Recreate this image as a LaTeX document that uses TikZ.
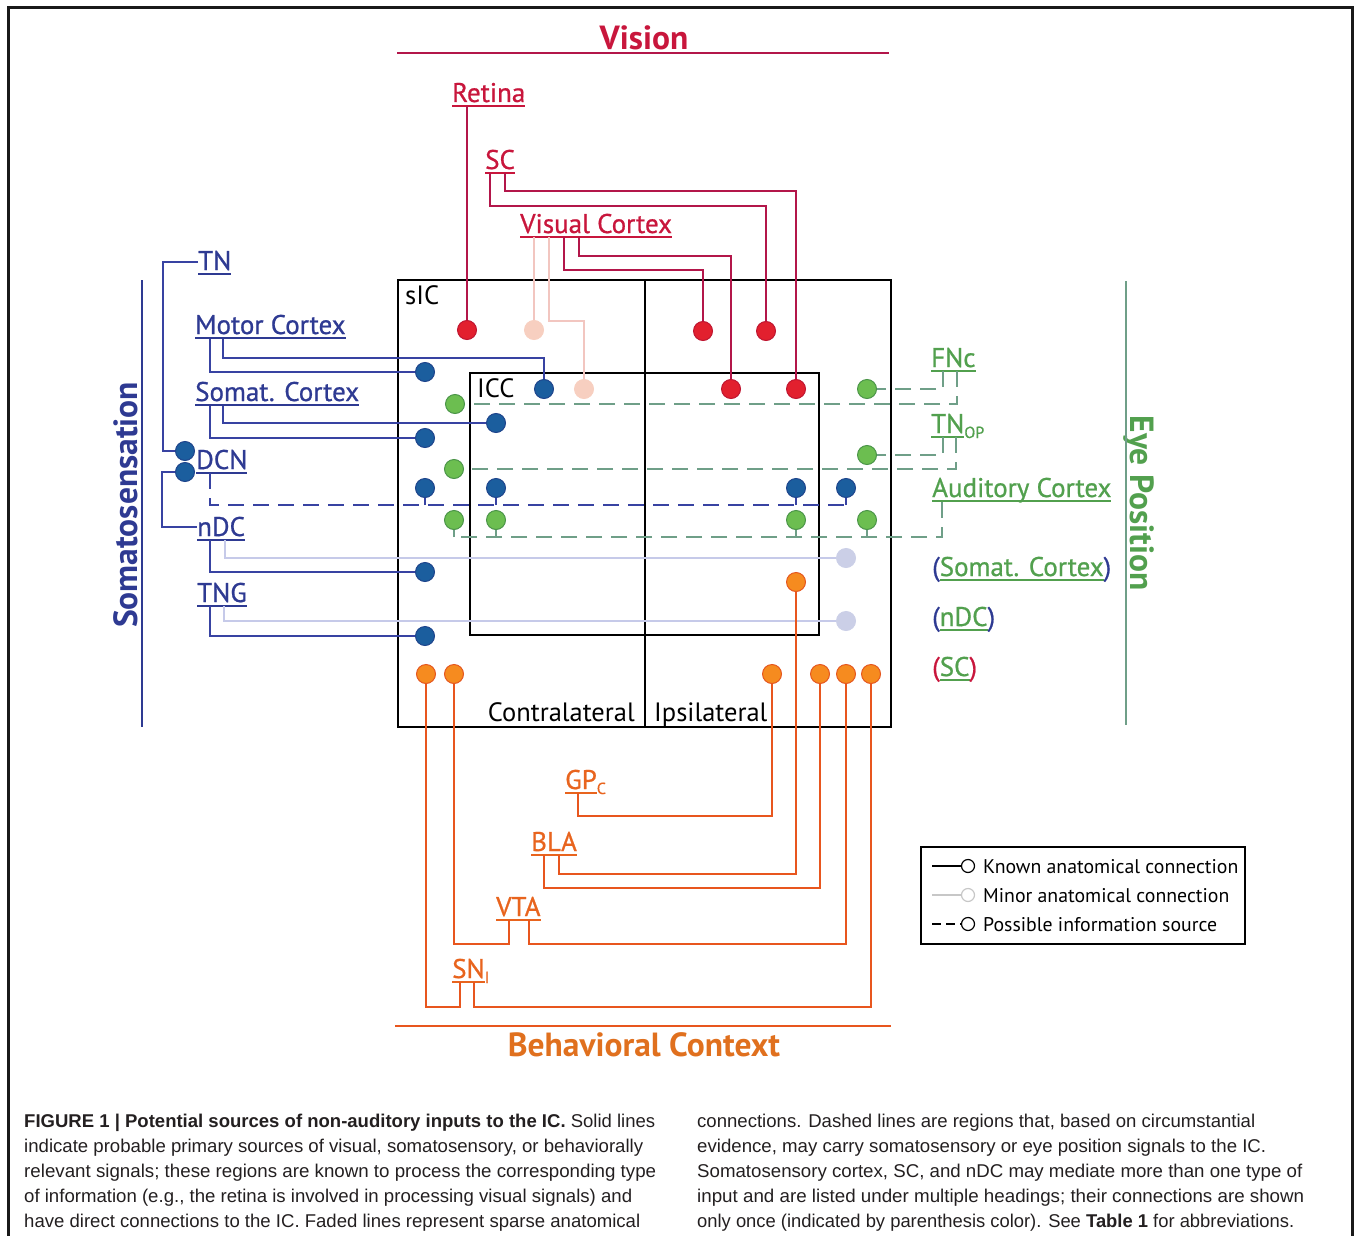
\documentclass[tikz,border=0pt]{standalone}
\usepackage{fontspec}
\usepackage{graphicx}
\setmainfont{PT Sans}
\newfontfamily\labfont[FakeBold=0.8]{PT Sans}
\newfontfamily\capfont{Liberation Sans}
\usetikzlibrary{calc}
\definecolor{vred}{HTML}{C8163C}
\definecolor{vline}{HTML}{B3164A}
\definecolor{vdot}{HTML}{E2202E}
\definecolor{vdotb}{HTML}{BE1530}
\definecolor{pinkdot}{HTML}{F7CFC0}
\definecolor{pinkline}{HTML}{F2C6C0}
\definecolor{sblue}{HTML}{2E3A92}
\definecolor{sline}{HTML}{3843A2}
\definecolor{bdot}{HTML}{1B5E9E}
\definecolor{bdotb}{HTML}{1E448C}
\definecolor{lav}{HTML}{CBCFE7}
\definecolor{lavline}{HTML}{C6CAE9}
\definecolor{egreen}{HTML}{52A04E}
\definecolor{gdot}{HTML}{6CBE50}
\definecolor{gdotb}{HTML}{4A9448}
\definecolor{gline}{HTML}{6F9F88}
\definecolor{odot}{HTML}{F68B1F}
\definecolor{odotb}{HTML}{E5561E}
\definecolor{oline}{HTML}{E8561E}
\definecolor{olab}{HTML}{E8641E}
\definecolor{btitle}{HTML}{E0701E}
\definecolor{captext}{HTML}{231F20}
\newsavebox\ulbox
\newcommand\myul[1]{\sbox\ulbox{#1}\rlap{\rule[-4.6pt]{\wd\ulbox}{1.8pt}}\usebox\ulbox}
\newcommand\subtx[1]{\raisebox{-5pt}{\fontsize{16}{16}\selectfont #1}}
\newcommand\lfont{\labfont\fontsize{27}{27}\selectfont}
\newcommand\hfont{\bfseries\fontsize{33.5}{34}\selectfont}
\newcommand\cfont{\capfont\fontsize{18.5}{20}\selectfont}
\newcommand\bfont{\fontsize{26.5}{27}\selectfont}
\begin{document}
\begin{tikzpicture}[x=1pt,y=-1pt,
  lab/.style={inner sep=0, anchor=base west, font=\lfont, text=#1},
  dotc/.style={circle, minimum size=19pt, inner sep=0, line width=1pt},
  rdot/.style={dotc, fill=vdot, draw=vdotb},
  pdot/.style={dotc, fill=pinkdot, draw=pinkdot},
  bdt/.style={dotc, fill=bdot, draw=bdotb},
  ldot/.style={dotc, fill=lav, draw=lav},
  gdt/.style={dotc, fill=gdot, draw=gdotb},
  odt/.style={dotc, fill=odot, draw=odotb},
  vl/.style={draw=vline, line width=2pt},
  pl/.style={draw=pinkline, line width=2pt},
  bl/.style={draw=sline, line width=1.6pt},
  lavl/.style={draw=lavline, line width=1.6pt},
  bdash/.style={draw=sline, line width=1.6pt, dash pattern=on 16pt off 9pt},
  gdash/.style={draw=gline, line width=1.6pt, dash pattern=on 16pt off 9pt},
  gtick/.style={draw=gline, line width=1.6pt},
  ol/.style={draw=oline, line width=2pt},
  boxl/.style={draw=black, line width=2.6pt},
  legl/.style={line width=1.2pt},
  captxt/.style={inner sep=0, anchor=base west, font=\cfont, text=captext},
  btxt/.style={inner sep=0, font=\bfont},
]
\useasboundingbox (0,0) rectangle (1354,1236);
% outer frame
\draw[line width=3pt, black!90] (8,1236) -- (8,8) -- (1352,8) -- (1352,1236);

% headings
\node[inner sep=0, anchor=base, font=\hfont, text=vred] (vision) at (644,50) {Vision};
\draw[vl] (397,53) -- (889,53);
\node[inner sep=0, anchor=base, font=\hfont, text=btitle] (behav) at (644,1056) {Behavioral Context};
\draw[ol] (395,1026) -- (891,1026);
\node[inner sep=0, rotate=90, font=\hfont, text=sblue] (soma) at (126,505) {Somatosensation};
\draw[draw=sblue, line width=2pt] (142,280) -- (142,727);
\node[inner sep=0, rotate=-90, font=\hfont, text=egreen] (eye) at (1139,503) {Eye Position};
\draw[draw=gline, line width=2pt] (1126,281) -- (1126,725);

% IC boxes
\draw[boxl] (398,280) rectangle (891,727);
\draw[boxl] (470,373) rectangle (819,635);
\draw[boxl] (645,280) -- (645,727);
\node[btxt, anchor=base west] (sic) at (405,304) {sIC};
\node[btxt, anchor=base west] (icc) at (477,397) {ICC};
\node[btxt, anchor=base east] (contra) at (635,721) {Contralateral};
\node[btxt, anchor=base west] (ipsi) at (654,721) {Ipsilateral};

% vision labels
\node[lab=vred] (retina) at (452,102) {\myul{Retina}};
\node[lab=vred] (sc) at (485,169) {\myul{SC}};
\node[lab=vred] (viscx) at (520,233) {\myul{Visual Cortex}};
% somato labels
\node[lab=sblue] (tn) at (198,270) {\myul{TN}};
\node[lab=sblue] (motor) at (195,334) {\myul{Motor Cortex}};
\node[lab=sblue] (somcx) at (195,401) {\myul{Somat. Cortex}};
\node[lab=sblue] (dcn) at (196,469) {\myul{DCN}};
\node[lab=sblue] (ndc) at (197,536) {\myul{nDC}};
\node[lab=sblue] (tng) at (197,602) {\myul{TNG}};
% eye labels
\node[lab=egreen] (fnc) at (931,367) {\myul{FNc}};
\node[lab=egreen] (tnop) at (931,433) {\myul{TN}\subtx{OP}};
\node[lab=egreen] (audcx) at (932,497) {\myul{Auditory Cortex}};
\node[lab=egreen] (somcx2) at (932,576) {{\color{sblue}(}\myul{Somat. Cortex}{\color{sblue})}};
\node[lab=egreen] (ndc2) at (932,626) {{\color{sblue}(}\myul{nDC}{\color{sblue})}};
\node[lab=egreen] (sc2) at (932,676) {{\color{vred}(}\myul{SC}{\color{vred})}};
% behavioral labels
\node[lab=olab] (gpc) at (565,789) {\myul{GP}\subtx{C}};
\node[lab=olab] (bla) at (531,851) {\myul{BLA}};
\node[lab=olab] (vta) at (496,916) {\myul{VTA}};
\node[lab=olab] (snr) at (452,978) {\myul{SN}\subtx{I}};

% circle positions
\coordinate (cr1) at (467,330); \coordinate (cr2) at (703,331); \coordinate (cr3) at (766,331);
\coordinate (cr4) at (731,389); \coordinate (cr5) at (796,389);
\coordinate (cp1) at (534,330); \coordinate (cp2) at (584,389);

% vision connectors
\draw[vl] (467,106) -- (cr1);
\draw[vl] (490,173) |- (766,206) -- (cr3);
\draw[vl] (505,173) |- (796,191) -- (cr5);
\draw[vl] (564,237) |- (703,270) -- (cr2);
\draw[vl] (579,237) |- (731,256) -- (cr4);
\draw[pl] (534,237) -- (cp1);
\draw[pl] (549,237) |- (584,321) -- (cp2);

% somato connectors
\draw[bl] (223,339) |- (544,358) -- (544,389);
\draw[bl] (210,339) |- (425,372);
\draw[bl] (223,406) |- (496,423);
\draw[bl] (210,406) |- (425,438);
\draw[bl] (tn.west |- 0,262) -- (163,262) |- (185,451);
\draw[bl] (185,472) -- (162,472) |- (ndc.west |- 0,527);
\draw[bl] (210,540) |- (425,572);
\draw[lavl] (225,540) |- (846,558);
\draw[bl] (210,606) |- (425,636);
\draw[lavl] (224,606) |- (846,621);
\draw[bdash] (210,473) |- (846,505);
\draw[bl] (846,505) -- (846,488);
\draw[bl] (425,505) -- (425,488);
\draw[bl] (496,505) -- (496,488);
\draw[bl] (796,505) -- (796,488);

% eye connectors
\draw[gdash] (943,371) |- (867,389);
\draw[gdash] (957,371) |- (455,404);
\draw[gdash] (943,437) |- (867,455);
\draw[gdash] (956,437) |- (454,469);
\draw[gdash] (942,502) |- (454,537);
\draw[gtick] (454,537) -- (454,520);
\draw[gtick] (496,537) -- (496,520);
\draw[gtick] (796,537) -- (796,520);
\draw[gtick] (867,537) -- (867,520);

% behavioral connectors
\draw[ol] (578,793) |- (772,816) -- (772,674);
\draw[ol] (559,855) |- (796,874) -- (796,582);
\draw[ol] (544,855) |- (820,888) -- (820,674);
\draw[ol] (509,920) |- (454,944) -- (454,674);
\draw[ol] (529,920) |- (846,944) -- (846,674);
\draw[ol] (460,982) |- (426,1007) -- (426,674);
\draw[ol] (474,982) |- (871,1007) -- (871,674);

% circles
\node[rdot] (r1) at (cr1) {}; \node[rdot] (r2) at (cr2) {}; \node[rdot] (r3) at (cr3) {};
\node[rdot] (r4) at (cr4) {}; \node[rdot] (r5) at (cr5) {};
\node[pdot] (p1) at (cp1) {}; \node[pdot] (p2) at (cp2) {};
\node[bdt] (b1) at (425,372) {}; \node[bdt] (b2) at (544,389) {};
\node[bdt] (b3) at (496,423) {}; \node[bdt] (b4) at (425,438) {};
\node[bdt] (b5) at (425,488) {}; \node[bdt] (b6) at (496,488) {};
\node[bdt] (b7) at (796,488) {}; \node[bdt] (b8) at (846,488) {};
\node[bdt] (b9) at (425,572) {}; \node[bdt] (b10) at (425,636) {};
\node[bdt] (dcn1) at (185,451) {}; \node[bdt] (dcn2) at (185,472) {};
\node[ldot] (lv1) at (846,558) {}; \node[ldot] (lv2) at (846,621) {};
\node[gdt] (g1) at (455,404) {}; \node[gdt] (g2) at (454,469) {};
\node[gdt] (g3) at (454,520) {}; \node[gdt] (g4) at (496,520) {};
\node[gdt] (g5) at (796,520) {}; \node[gdt] (g6) at (867,520) {};
\node[gdt] (g7) at (867,389) {}; \node[gdt] (g8) at (867,455) {};
\node[odt] (o0) at (796,582) {};
\node[odt] (o1) at (426,674) {}; \node[odt] (o2) at (454,674) {};
\node[odt] (o3) at (772,674) {}; \node[odt] (o4) at (820,674) {};
\node[odt] (o5) at (846,674) {}; \node[odt] (o6) at (871,674) {};

% legend
\draw[legl] (921,847) rectangle (1245,944);
\draw[legl] (932,866) -- (962,866);
\node[circle, draw=black, line width=1.2pt, fill=white, minimum size=13pt, inner sep=0] (lg1) at (968,866) {};
\draw[legl, draw=black!22] (932,895) -- (962,895);
\node[circle, draw=black!22, line width=1.2pt, fill=white, minimum size=13pt, inner sep=0] (lg2) at (968,895) {};
\draw[legl, dash pattern=on 9pt off 5pt] (932,924) -- (962,924);
\node[circle, draw=black, line width=1.2pt, fill=white, minimum size=13pt, inner sep=0] (lg3) at (968,924) {};
\node[inner sep=0, anchor=base west, font=\fontsize{19.8}{20}\selectfont] (lt1) at (983,873) {Known anatomical connection};
\node[inner sep=0, anchor=base west, font=\fontsize{19.8}{20}\selectfont] (lt2) at (983,902) {Minor anatomical connection};
\node[inner sep=0, anchor=base west, font=\fontsize{19.8}{20}\selectfont] (lt3) at (983,931) {Possible information source};

% caption
\node[captxt] (c1) at (24,1127) {\resizebox{631pt}{\height}{\textbf{FIGURE 1 | Potential sources of non-auditory inputs to the IC.} Solid lines}};
\node[captxt] (c2) at (24,1152) {\resizebox{619pt}{\height}{indicate probable primary sources of visual, somatosensory, or behaviorally}};
\node[captxt] (c3) at (24,1177) {\resizebox{632pt}{\height}{relevant signals; these regions are known to process the corresponding type}};
\node[captxt] (c4) at (24,1202) {\resizebox{608pt}{\height}{of information (e.g., the retina is involved in processing visual signals) and}};
\node[captxt] (c5) at (24,1227) {\resizebox{616pt}{\height}{have direct connections to the IC. Faded lines represent sparse anatomical}};
\node[captxt] (c6) at (697,1127) {\resizebox{558pt}{\height}{connections. Dashed lines are regions that, based on circumstantial}};
\node[captxt] (c7) at (697,1152) {\resizebox{569pt}{\height}{evidence, may carry somatosensory or eye position signals to the IC.}};
\node[captxt] (c8) at (697,1177) {\resizebox{605pt}{\height}{Somatosensory cortex, SC, and nDC may mediate more than one type of}};
\node[captxt] (c9) at (697,1202) {\resizebox{607pt}{\height}{input and are listed under multiple headings; their connections are shown}};
\node[captxt] (c10) at (697,1227) {\resizebox{597pt}{\height}{only once (indicated by parenthesis color). See \textbf{Table 1} for abbreviations.}};
\end{tikzpicture}
\end{document}
